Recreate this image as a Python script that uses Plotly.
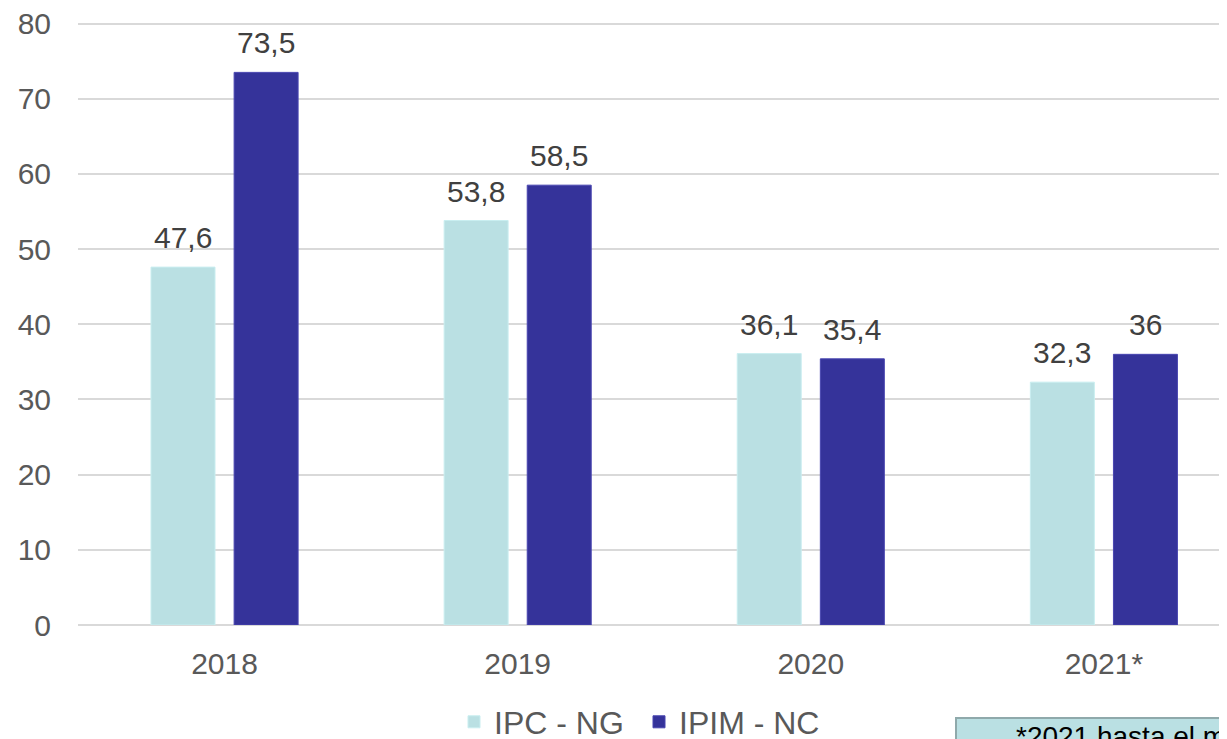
import plotly.graph_objects as go

years = ["2018", "2019", "2020", "2021*"]
ipc_ng = [47.6, 53.8, 36.1, 32.3]
ipim_nc = [73.5, 58.5, 35.4, 36.0]
ipc_labels = ["47,6", "53,8", "36,1", "32,3"]
ipim_labels = ["73,5", "58,5", "35,4", "36"]
y_ticks = [0, 10, 20, 30, 40, 50, 60, 70, 80]

# page body has an 8px default margin
OFF = 8
W, H = 1227 - OFF, 739 - OFF
Y_MAX = 80.6
unit = (625 - 24) / 80.0
ml, mr, mb = 78 - OFF, 0, 114
mt = round(24 - OFF - (Y_MAX - 80) * unit)
pw = W - ml - mr
ph = H - mt - mb

xs = list(range(len(years)))
font = "Liberation Sans, Arial, sans-serif"
bar_off = 0.142

fig = go.Figure()
fig.add_trace(go.Bar(
    x=xs, y=ipc_ng, name="IPC - NG",
    marker=dict(color="#BAE0E3", line=dict(color="#C9EEF0", width=1)),
))
fig.add_trace(go.Bar(
    x=xs, y=ipim_nc, name="IPIM - NC",
    marker=dict(color="#35339A", line=dict(color="#4845B0", width=1)),
))

def px_x(p):
    return (p - OFF - ml) / pw

def px_y(p):
    return (H - mb - (p - OFF)) / ph

annotations = []
for i, (v, t) in enumerate(zip(ipc_ng, ipc_labels)):
    annotations.append(dict(x=xs[i] - bar_off, y=v, xref="x", yref="y", text=t,
                            showarrow=False, yanchor="bottom", yshift=11,
                            font=dict(size=30, color="#404040", family=font)))
for i, (v, t) in enumerate(zip(ipim_nc, ipim_labels)):
    annotations.append(dict(x=xs[i] + bar_off, y=v, xref="x", yref="y", text=t,
                            showarrow=False, yanchor="bottom", yshift=11,
                            font=dict(size=30, color="#404040", family=font)))
annotations.append(dict(xref="paper", yref="paper", x=px_x(1014), y=px_y(719),
                        xanchor="left", yanchor="top", showarrow=False,
                        text="*2021 hasta el mes de junio",
                        font=dict(size=28, color="#000000", family=font)))

fig.update_layout(
    width=W, height=H,
    margin=dict(l=ml, r=mr, t=mt, b=mb, autoexpand=False),
    paper_bgcolor="white", plot_bgcolor="white",
    barmode="group", bargap=0.433, bargroupgap=0.23,
    font=dict(family=font, color="#595959"),
    showlegend=True,
    legend=dict(orientation="h", x=px_x(454), xanchor="left",
                y=px_y(722), yanchor="middle", entrywidth=140,
                entrywidthmode="pixels",
                font=dict(size=32, color="#595959", family=font)),
    xaxis=dict(tickmode="array", tickvals=xs, ticktext=years,
               range=[-0.5, 3.42], showgrid=False, zeroline=False,
               showline=False, ticks="", automargin=False,
               ticklabelstandoff=18, ticklabeloverflow="allow",
               tickfont=dict(size=30, color="#595959", family=font)),
    yaxis=dict(range=[0, Y_MAX], tickvals=y_ticks, showgrid=True,
               gridcolor="#D9D9D9", gridwidth=2, zeroline=True,
               zerolinecolor="#D9D9D9", zerolinewidth=2, showline=False,
               ticks="", ticklabelstandoff=26, automargin=False,
               ticklabeloverflow="allow",
               tickfont=dict(size=30, color="#595959", family=font)),
    shapes=[dict(type="rect", xref="paper", yref="paper",
                 x0=px_x(956), x1=px_x(1260), y0=px_y(718), y1=px_y(760),
                 fillcolor="#BAE0E3", line=dict(color="#8FA9AB", width=2))],
    annotations=annotations,
)

fig.write_html("out.html")
